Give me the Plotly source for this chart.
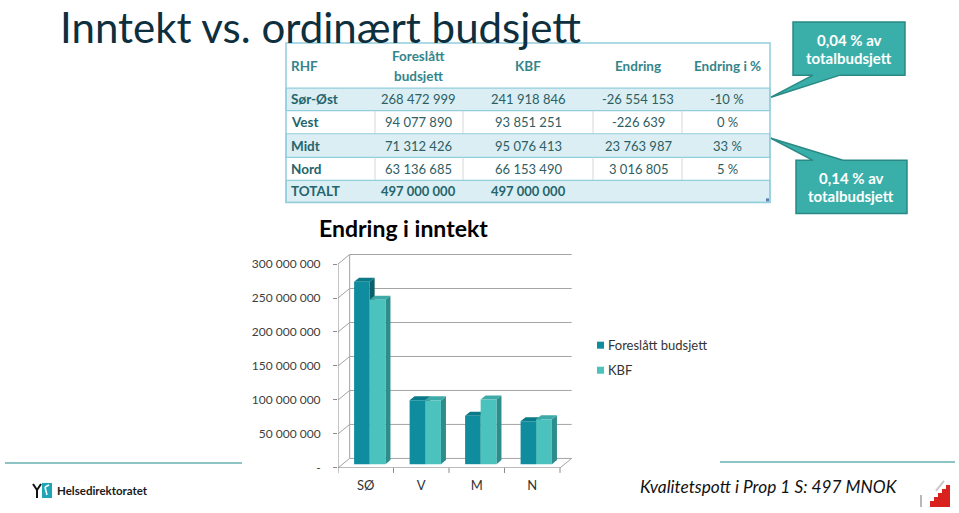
import plotly.graph_objects as go

W, H = 959, 513
HE = 505  # effective drawing height used for placement
def px(x):
    return x / W
def py(y):
    return 1 - y / HE

# ---------------- data ----------------
regions = ["SØ", "V", "M", "N"]
foreslatt = [268472999, 94077890, 71312426, 63136685]
kbf = [241918846, 93851251, 95076413, 66153490]
series_names = ["Foreslått budsjett", "KBF"]
y_tickvals = [0, 50e6, 100e6, 150e6, 200e6, 250e6, 300e6]
y_ticktext = ["-", "50 000 000", "100 000 000", "150 000 000",
              "200 000 000", "250 000 000", "300 000 000"]

table_header = ["RHF", "Foreslått<br>budsjett", "KBF", "Endring", "Endring i %"]
table_rhf = ["Sør-Øst", "Vest", "Midt", "Nord", "TOTALT"]
table_foreslatt = ["268 472 999", "94 077 890", "71 312 426", "63 136 685", "497 000 000"]
table_kbf = ["241 918 846", "93 851 251", "95 076 413", "66 153 490", "497 000 000"]
table_endring = ["-26 554 153", "-226 639", "23 763 987", "3 016 805", ""]
table_pct = ["-10 %", "0 %", "33 %", "5 %", ""]

callout_texts = ["0,04 % av<br>totalbudsjett", "0,14 % av<br>totalbudsjett"]
title_text = "Inntekt vs. ordinært budsjett"
chart_title = "Endring i inntekt"
footer_text = "Kvalitetspott i Prop 1 S: 497 MNOK"
logo_text = "Helsedirektoratet"

# ---------------- styles ----------------
FONT = "Lato"
C_F, C_F_SIDE, C_F_TOP = "#0F8D9E", "#0A5F6A", "#0B7A88"
C_K, C_K_SIDE, C_K_TOP = "#4CC2BE", "#2C8D8B", "#3DAAA7"
GRID = "#A3A3A3"
OFF_F, W_F = -0.21, 0.28
OFF_K, W_K = 0.07, 0.285
BASE = 5.5e6
DX, DY = 0.09, 6e6
BX, BY = 0.21, 14e6

fig = go.Figure()
fig.add_trace(go.Bar(x=list(range(len(regions))), y=foreslatt, base=BASE,
                     offset=OFF_F, width=W_F, name=series_names[0],
                     marker=dict(color=C_F, line=dict(width=0)),
                     text=regions, hovertemplate="%{text}: %{y:,.0f}<extra>" + series_names[0] + "</extra>",
                     textposition="none"))
fig.add_trace(go.Bar(x=list(range(len(regions))), y=kbf, base=BASE,
                     offset=OFF_K, width=W_K, name=series_names[1],
                     marker=dict(color=C_K, line=dict(width=0)),
                     text=regions, hovertemplate="%{text}: %{y:,.0f}<extra>" + series_names[1] + "</extra>",
                     textposition="none"))

shapes = []
def dline(x0, y0, x1, y1, color=GRID, width=1):
    shapes.append(dict(type="line", xref="x", yref="y", x0=x0, y0=y0, x1=x1, y1=y1,
                       line=dict(color=color, width=width), layer="between"))

n = len(regions)
left, right = -0.5, n - 0.5
for v in y_tickvals:
    dline(left + BX, v + BY, right + BX, v + BY)
    dline(left, v, left + BX, v + BY)
dline(right, 0, right + BX, BY)
dline(left + BX, BY, left + BX, y_tickvals[-1] + BY)
dline(left, 0, left, y_tickvals[-1], color="#8A8A8A")
dline(left, 0, right, 0, color="#8A8A8A")
for k in range(n + 1):
    shapes.append(dict(type="line", xref="x", yref="paper", x0=left + k, x1=left + k,
                       y0=py(467), y1=py(472), line=dict(color="#8A8A8A", width=1)))

def face_paths(i, v, off, w):
    xl = i + off
    xr = xl + w
    b, t = BASE, BASE + v
    side = f"M {xr},{b} L {xr+DX},{b+DY} L {xr+DX},{t+DY} L {xr},{t} Z"
    top = f"M {xl},{t} L {xr},{t} L {xr+DX},{t+DY} L {xl+DX},{t+DY} Z"
    return side, top

for i in range(n):
    for vals, off, w, cs, ct in [(foreslatt, OFF_F, W_F, C_F_SIDE, C_F_TOP),
                                 (kbf, OFF_K, W_K, C_K_SIDE, C_K_TOP)]:
        side, top = face_paths(i, vals[i], off, w)
        shapes.append(dict(type="path", xref="x", yref="y", path=side, fillcolor=cs,
                           line=dict(width=0), layer="between"))
        shapes.append(dict(type="path", xref="x", yref="y", path=top, fillcolor=ct,
                           line=dict(width=0), layer="between"))

def prect(x0, y0, x1, y1, fill=None, line=None, lw=1):
    d = dict(type="rect", xref="paper", yref="paper", x0=px(x0), x1=px(x1),
             y0=py(y1), y1=py(y0), line=dict(width=0 if line is None else lw,
                                             color=line or "rgba(0,0,0,0)"))
    if fill:
        d["fillcolor"] = fill
    shapes.append(d)

def pline(x0, y0, x1, y1, color, width=1):
    shapes.append(dict(type="line", xref="paper", yref="paper", x0=px(x0), x1=px(x1),
                       y0=py(y0), y1=py(y1), line=dict(color=color, width=width)))

# ---------------- table ----------------
TB_L, TB_R = 286, 770
row_edges = [88, 110.5, 133.5, 157, 180, 202]
col_seps = [375, 463, 593, 682]
LIGHT, TB_LINE = "#DAEEF3", "#92CDDC"
prect(TB_L, 43, TB_R, 202, fill="white")
for r in range(5):
    y0, y1 = row_edges[r], row_edges[r + 1]
    if r % 2 == 0:
        prect(TB_L, y0, TB_R, y1, fill=LIGHT, line=TB_LINE, lw=1.2)
    else:
        for cx in col_seps:
            pline(cx, y0, cx, y1, "#D6D6D6", 1)
prect(TB_L, 43, TB_R, 202, line=TB_LINE, lw=1.5)
prect(766, 198, 769, 201, fill="#5B7FB5")

# ---------------- callouts ----------------
CALL_FILL, CALL_LINE = "#3AAFA9", "#2A8985"
def ppath(points):
    s = "M " + " L ".join(f"{px(x)},{py(y)}" for x, y in points) + " Z"
    shapes.append(dict(type="path", xref="paper", yref="paper", path=s,
                       fillcolor=CALL_FILL, line=dict(color=CALL_LINE, width=1.5)))
ppath([(793, 22), (905, 22), (905, 75), (840, 75), (771, 97), (813, 75), (793, 75)])
ppath([(796, 160), (813, 160), (771, 138), (843, 160), (907, 160), (907, 213), (796, 213)])

# ---------------- legend (manual) ----------------
prect(597, 341, 604, 348, fill=C_F)
prect(597, 366, 604, 373, fill=C_K)

# ---------------- footer ----------------
pline(5, 462, 242, 462, "#8FC4C7", 2)
pline(720, 461, 955, 461, "#8FC4C7", 2)
prect(42, 482, 52, 497, fill="#1FA5B5")
pline(33, 483, 37, 489, "#111111", 2)
pline(41, 483, 37, 489, "#111111", 2)
pline(37, 489, 37, 497, "#111111", 2)
pline(45, 486, 49, 484, "white", 1.5)
pline(45, 486, 47, 494, "white", 1.5)
steps = [(930, 500), (934, 496), (938, 492), (942, 488), (946, 484)]
for sx, sy in steps:
    prect(sx, sy, sx + 4, 506, fill="#D9211E")
pline(921, 494, 921, 506, "#B8B8B8", 2)
pline(936, 490, 944, 480, "#C8C8C8", 2)

# ---------------- annotations ----------------
ann = []
def txt(x, y, s, size=13, color="#333333", bold=False, italic=False, xanchor="center",
        yanchor="middle", family=FONT):
    if bold:
        s = f"<b>{s}</b>"
    if italic:
        s = f"<i>{s}</i>"
    ann.append(dict(x=px(x), y=py(y), xref="paper", yref="paper", text=s, showarrow=False,
                    xanchor=xanchor, yanchor=yanchor,
                    font=dict(size=size, color=color, family=family)))

txt(58, 0, title_text, size=42, color="#0E2F3E", xanchor="left", yanchor="top")
txt(403, 228, chart_title, size=23, color="#000000", bold=True)

HDR_C = "#34858B"
BODY_C = "#2D5E64"
col_x = [289, 418, 528, 638, 727]
txt(col_x[0], 66, table_header[0], size=13.5, color=HDR_C, bold=True, xanchor="left")
for j in range(1, 5):
    parts = table_header[j].split("<br>")
    if len(parts) == 2:
        txt(col_x[j], 55.5, parts[0], size=13.5, color=HDR_C, bold=True)
        txt(col_x[j], 76, parts[1], size=13.5, color=HDR_C, bold=True)
    else:
        txt(col_x[j], 66, parts[0], size=13.5, color=HDR_C, bold=True)
cols = [table_rhf, table_foreslatt, table_kbf, table_endring, table_pct]
for r in range(5):
    yc = (row_edges[r] + row_edges[r + 1]) / 2
    total = r == 4
    txt(col_x[0], yc, cols[0][r], size=13.5, color="#24656C", bold=True, xanchor="left")
    for j in range(1, 5):
        if cols[j][r]:
            txt(col_x[j], yc, cols[j][r], size=13, color="#24656C" if total else BODY_C,
                bold=total)

for k, (cx, cy) in enumerate([(849, 48.5), (851, 187)]):
    l1, l2 = callout_texts[k].split("<br>")
    txt(cx, cy - 9, l1, size=15, color="white", bold=True)
    txt(cx, cy + 9, l2, size=15, color="white", bold=True)

txt(606, 344.5, series_names[0], size=13, color="#333333", xanchor="left")
txt(606, 369.5, series_names[1], size=13, color="#333333", xanchor="left")

txt(55, 490, logo_text, size=11.5, color="#1A1A1A", bold=True, xanchor="left")
txt(638, 486, footer_text, size=17.3, color="#111111", italic=True, xanchor="left")

fig.update_layout(
    width=W, height=H, margin=dict(l=0, r=0, t=0, b=0),
    paper_bgcolor="white", plot_bgcolor="rgba(0,0,0,0)",
    showlegend=False, barmode="overlay",
    font=dict(family=FONT, color="#333333"),
    shapes=shapes, annotations=ann,
    xaxis=dict(domain=[px(338), px(338 + 4.3 * 55.5)], range=[-0.5, 3.8],
               tickvals=list(range(n)), ticktext=regions, showgrid=False, zeroline=False,
               showline=False, ticks="", ticklabelstandoff=8,
               tickfont=dict(size=13, color="#333333")),
    yaxis=dict(domain=[py(467), py(467 - 320 * 203.5 / 300)], range=[0, 320e6],
               tickvals=y_tickvals, ticktext=y_ticktext, showgrid=False, zeroline=False,
               showline=False, ticks="outside", ticklen=4, tickcolor="#8A8A8A",
               ticklabelstandoff=10, tickfont=dict(size=12, color="#404040")),
)

fig.write_html("out.html", config={"displayModeBar": False},
               post_script="document.body.style.margin='0';"
                           "document.documentElement.style.overflow='hidden';"
                           "document.body.style.overflow='hidden';")
